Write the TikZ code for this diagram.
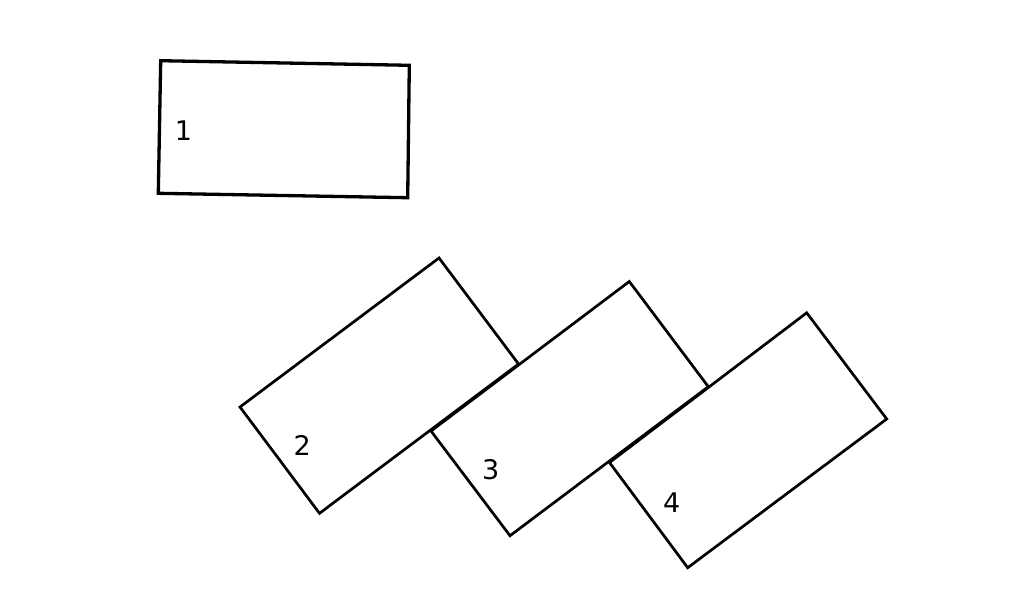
\documentclass[tikz,border=0pt]{standalone}
\usepackage{fontspec}
\setmainfont{DejaVu Sans}
\begin{document}
\begin{tikzpicture}[x=1pt,y=-1pt,
  box/.style={draw=black,line width=2.7pt,line join=miter},
  boxa/.style={draw=black,line width=3.3pt,line join=miter},
  lab/.style={font=\fontsize{27}{27}\selectfont,inner sep=0pt,anchor=center}]
\useasboundingbox[fill=white] (0,0) rectangle (1024,600);
% rectangle 1
\draw[boxa] (160.7,60.7) -- (409.3,65.3) -- (407.7,197.7) -- (158.3,193.3) -- cycle;
% rectangle 2
\draw[box] (240,407) -- (439,258) -- (518.5,364) -- (319.5,513.3) -- cycle;
% rectangle 3
\draw[box] (431,431) -- (629.3,281.5) -- (708.3,386.7) -- (510,535.7) -- cycle;
% rectangle 4
\draw[box] (609.5,462.5) -- (806.7,312.8) -- (886.7,419) -- (687.7,567.7) -- cycle;
\node[lab] (l1) at (183.5,131) {1};
\node[lab] (l2) at (302.3,445.7) {2};
\node[lab] (l3) at (490.7,470) {3};
\node[lab] (l4) at (671.7,502.3) {4};
\end{tikzpicture}
\end{document}
